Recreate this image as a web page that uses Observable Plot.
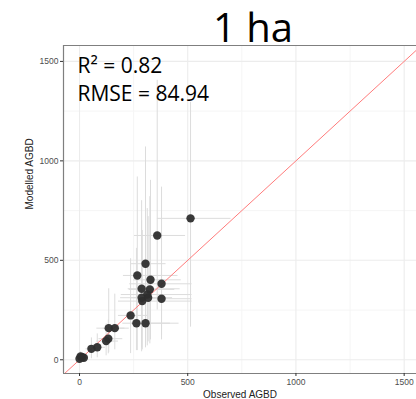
<!DOCTYPE html>
<html>
<head>
<meta charset="utf-8">
<script src="https://cdn.jsdelivr.net/npm/d3@7"></script>
<script src="https://cdn.jsdelivr.net/npm/@observablehq/plot@0.6"></script>
<style>
  html, body { margin: 0; padding: 0; background: #fff; }
  #chart svg { display: block; }
</style>
</head>
<body>
<div id="chart"></div>
<script>
// ---- data ----
const title = "1 ha";
const statR2 = "R² = 0.82";
const statRMSE = "RMSE = 84.94";
const xTitle = "Observed AGBD";
const yTitle = "Modelled AGBD";

const observed = [513, 359, 305, 267, 328, 379, 287, 325, 313, 287, 317, 290, 379, 236, 263, 305, 135, 163, 133, 123, 82, 55, 5, 20, 0, 12];
const modelled = [711, 625, 483, 424, 402, 382, 357, 354, 328, 312, 312, 295, 307, 223, 184, 184, 159, 159, 106, 94, 63, 55, 17, 10, 5, 13];
const obsLow   = [360, 254, 240, 203, 250, 232, 225, 230, 193, 190, 240, 180, 290, 180, 200, 240, 80, 110, 90, 80, 50, 30, 0, 5, 0, 0];
const obsHigh  = [700, 490, 400, 455, 470, 520, 465, 440, 520, 400, 430, 520, 520, 314, 420, 460, 210, 230, 200, 180, 120, 90, 20, 40, 10, 30];
const modLow   = [164, 250, 90, 46, 100, 120, 60, 80, 70, 40, 90, 50, 100, 31, 46, 60, 37, 50, 30, 20, 10, 5, 0, 0, 0, 0];
const modHigh  = [1294, 1405, 1070, 919, 902, 868, 800, 820, 760, 700, 720, 650, 460, 508, 560, 600, 357, 330, 200, 180, 130, 110, 40, 30, 20, 35];

const majorTicks = [0, 500, 1000, 1500];
const minorTicks = [250, 750, 1250];
const abline = {slope: 1, intercept: 0};

// ---- build table ----
const data = observed.map((o, i) => ({
  obs: o, mod: modelled[i],
  xlo: obsLow[i], xhi: obsHigh[i], ylo: modLow[i], yhi: modHigh[i]
}));

const xDomain = [-74, 1557];
const yDomain = [-69, 1580];
const lineEnds = [
  {x1: xDomain[0], y1: abline.intercept + abline.slope * xDomain[0],
   x2: xDomain[1], y2: abline.intercept + abline.slope * xDomain[1]}
];

const fmt = d3.format("d");

const chart = Plot.plot({
  width: 416,
  height: 399,
  marginLeft: 63,
  marginRight: 0,
  marginTop: 45,
  marginBottom: 26,
  style: {fontFamily: "'Liberation Sans', Arial, sans-serif", background: "#fff"},
  x: {domain: xDomain, axis: null},
  y: {domain: yDomain, axis: null},
  marks: [
    // grid
    Plot.ruleX(minorTicks, {stroke: "#f5f5f5", strokeWidth: 1}),
    Plot.ruleY(minorTicks, {stroke: "#f5f5f5", strokeWidth: 1}),
    Plot.ruleX(majorTicks, {stroke: "#ececec", strokeWidth: 1.1}),
    Plot.ruleY(majorTicks, {stroke: "#ececec", strokeWidth: 1.1}),
    // error bars
    Plot.ruleX(data, {x: "obs", y1: "ylo", y2: "yhi", stroke: "#dcdcdc", strokeWidth: 1}),
    Plot.ruleY(data, {y: "mod", x1: "xlo", x2: "xhi", stroke: "#dcdcdc", strokeWidth: 1}),
    // 1:1 line
    Plot.link(lineEnds, {x1: "x1", y1: "y1", x2: "x2", y2: "y2", stroke: "#ff7b7b", strokeWidth: 1, clip: true}),
    // points
    Plot.dot(data, {x: "obs", y: "mod", r: 4.2, fill: "#2e2e2e", fillOpacity: 0.95, stroke: null}),
    // panel border (left, top, bottom)
    Plot.ruleX([xDomain[0]], {stroke: "#7f7f7f", strokeWidth: 1.2}),
    Plot.ruleY([yDomain[0], yDomain[1]], {stroke: "#7f7f7f", strokeWidth: 1.2}),
    // axes
    Plot.axisX(majorTicks, {tickSize: 3, tickPadding: 2, tickFormat: fmt, fontSize: 8.5, fill: "#4d4d4d", stroke: "#333", label: null}),
    Plot.axisY(majorTicks, {tickSize: 3, tickPadding: 2, tickFormat: fmt, fontSize: 8.5, fill: "#4d4d4d", stroke: "#333", label: null}),
    // axis titles
    Plot.text([xTitle], {text: d => d, frameAnchor: "bottom", lineAnchor: "bottom", dy: 24, fontSize: 10, fill: "#222"}),
    Plot.text([yTitle], {text: d => d, frameAnchor: "left", rotate: -90, dx: -34, fontSize: 10, fill: "#222"}),
    // title and stats
    Plot.text([title], {text: d => d, frameAnchor: "top", lineAnchor: "bottom", dx: 13, dy: -4, fontSize: 40, fontFamily: "'Open Sans', sans-serif", fill: "#000"}),
    Plot.text([statR2], {text: d => d, frameAnchor: "top-left", textAnchor: "start", lineAnchor: "bottom", dx: 14, dy: 27, fontSize: 21, fontFamily: "'Open Sans', sans-serif", fill: "#000"}),
    Plot.text([statRMSE], {text: d => d, frameAnchor: "top-left", textAnchor: "start", lineAnchor: "bottom", dx: 14, dy: 55, fontSize: 21, fontFamily: "'Open Sans', sans-serif", fill: "#000"})
  ]
});
document.getElementById("chart").appendChild(chart);
</script>
</body>
</html>
